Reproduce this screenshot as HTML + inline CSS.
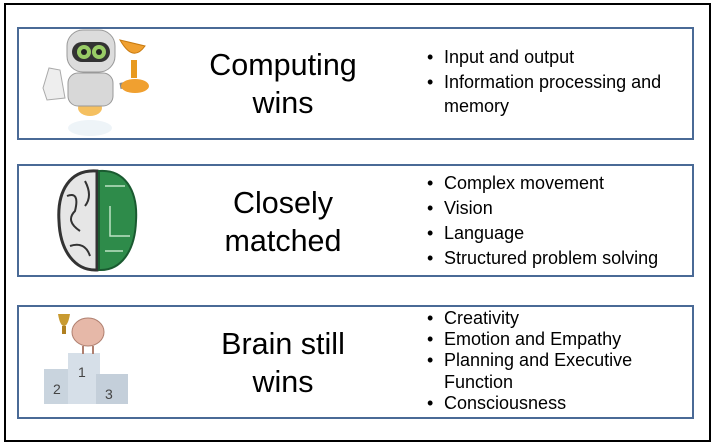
<!DOCTYPE html>
<html><head><meta charset="utf-8"><style>
*{margin:0;padding:0;box-sizing:border-box}
body{width:715px;height:445px;background:#fff;position:relative;overflow:hidden;font-family:"Liberation Sans",sans-serif;color:#000}
.outer{position:absolute;left:4px;top:3px;width:707px;height:439px;border:2.5px solid #000}
.box{position:absolute;left:17px;width:677px;border:2px solid #4a6a96;background:#fff}
.t{position:absolute;left:180px;width:206px;text-align:center;font-size:30.5px;line-height:38px}
ul{position:absolute;left:427px;list-style:none;font-size:18px}
li{position:relative;padding-left:17px}
li:before{content:"•";position:absolute;left:0}
svg{position:absolute}
</style></head><body>
<div class="outer"></div>
<div class="box" style="top:27px;height:113px"></div>
<div class="box" style="top:164px;height:113px"></div>
<div class="box" style="top:305px;height:114px"></div>

<div class="t" style="top:46px">Computing<br>wins</div>
<div class="t" style="top:184px">Closely<br>matched</div>
<div class="t" style="top:325px">Brain still<br>wins</div>

<ul style="top:45px;line-height:24.5px"><li>Input and output</li><li>Information processing and<br>memory</li></ul>
<ul style="top:171px;line-height:25px"><li>Complex movement</li><li>Vision</li><li>Language</li><li>Structured problem solving</li></ul>
<ul style="top:308px;line-height:21.2px"><li>Creativity</li><li>Emotion and Empathy</li><li>Planning and Executive<br>Function</li><li>Consciousness</li></ul>

<!-- robot -->
<svg style="left:35px;top:28px" width="140" height="112">
<ellipse cx="55" cy="100" rx="22" ry="8" fill="#eef4f8"/>
<ellipse cx="55" cy="80" rx="12" ry="8" fill="#f5c060"/>
<rect x="33" y="45" width="45" height="33" rx="10" fill="#d8d8d8" stroke="#999"/>
<rect x="32" y="2" width="48" height="42" rx="16" fill="#dcdcdc" stroke="#999"/>
<rect x="37" y="14" width="38" height="20" rx="10" fill="#333"/>
<circle cx="49" cy="24" r="7" fill="#9c6"/><circle cx="64" cy="24" r="7" fill="#9c6"/>
<circle cx="49" cy="24" r="3" fill="#222"/><circle cx="64" cy="24" r="3" fill="#222"/>
<path d="M8 60 L14 40 L25 42 L30 70 L12 72Z" fill="#eee" stroke="#aaa"/>
<path d="M85 58 L100 55" stroke="#888" stroke-width="6"/>
<path d="M85 12 Q98 35 110 18 Z" fill="#f0a030" stroke="#c77a10"/>
<rect x="96" y="32" width="6" height="18" fill="#e89a20"/>
<ellipse cx="100" cy="58" rx="14" ry="7" fill="#f0a030"/>
</svg>
<!-- brain -->
<svg style="left:55px;top:166px" width="85" height="110">
<path d="M42 5 C15 3 2 25 4 55 C5 85 20 105 42 104 Z" fill="#e6e6e6" stroke="#333" stroke-width="3"/>
<path d="M12 30 Q25 25 20 45 Q10 55 25 65 M15 80 Q30 75 35 90 M30 15 Q38 30 30 40" fill="none" stroke="#333" stroke-width="2"/>
<path d="M44 5 C70 3 83 25 81 55 C80 85 66 105 44 104 Z" fill="#2e8b4a" stroke="#1a5a30" stroke-width="2"/>
<path d="M50 20 H70 M55 40 V70 H75 M50 85 H68" stroke="#bde3c5" stroke-width="1.5" fill="none"/>
</svg>
<!-- podium -->
<svg style="left:38px;top:312px" width="100" height="104">
<rect x="6" y="57" width="32" height="35" fill="#c9d4de"/>
<rect x="30" y="41" width="32" height="51" fill="#d6dfe8"/>
<rect x="58" y="62" width="32" height="30" fill="#c4cfda"/>
<text x="15" y="82" font-size="14" fill="#444" font-family="Liberation Sans">2</text>
<text x="40" y="65" font-size="14" fill="#444" font-family="Liberation Sans">1</text>
<text x="67" y="87" font-size="14" fill="#444" font-family="Liberation Sans">3</text>
<ellipse cx="50" cy="20" rx="16" ry="14" fill="#e6b8a8" stroke="#b08070"/>
<path d="M45 34 V42 M55 34 V42" stroke="#b08070" stroke-width="2"/>
<path d="M20 2 H32 Q30 14 26 14 Q22 14 20 2Z" fill="#c89a30"/>
<rect x="24" y="14" width="4" height="8" fill="#b08020"/>
</svg>
</body></html>
